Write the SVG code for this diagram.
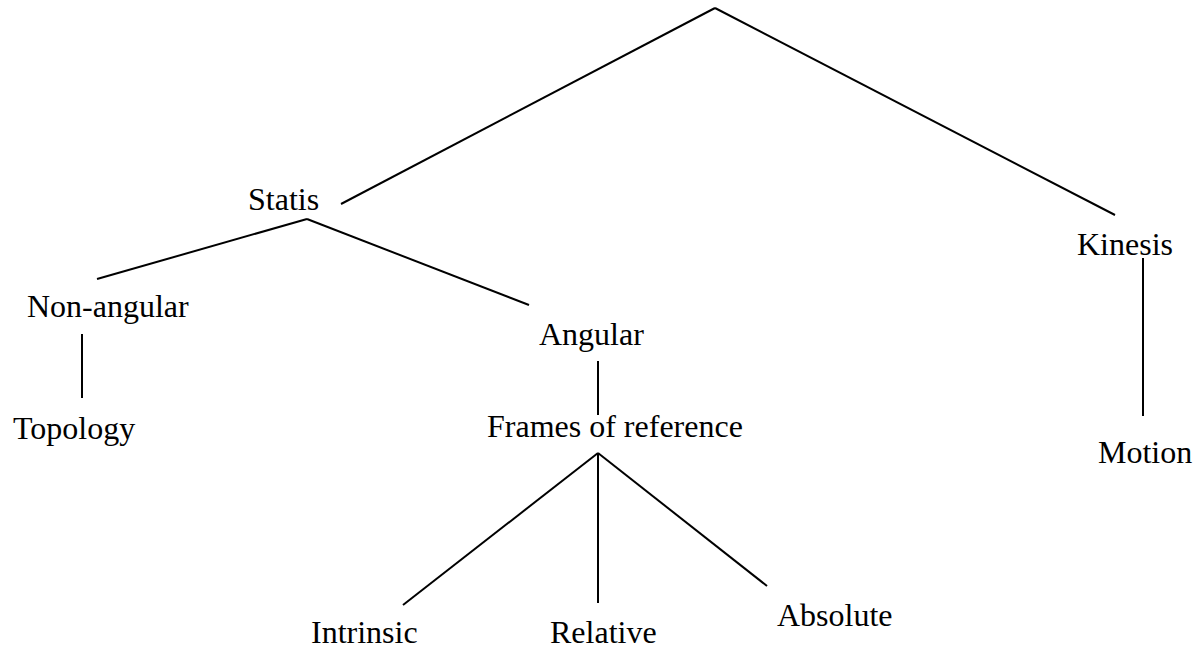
<svg xmlns="http://www.w3.org/2000/svg" width="1196" height="650" viewBox="0 0 1196 650">
<style>
text{font-family:"Liberation Serif","Times New Roman",serif;font-size:32px;fill:#000}
line{stroke:#000;stroke-width:2}
</style>
<rect width="1196" height="650" fill="#fff"/>
<g id="connectors">
<line x1="715" y1="8" x2="341" y2="204"/>
<line x1="715" y1="8" x2="1115" y2="215"/>
<line x1="307" y1="219" x2="97" y2="279"/>
<line x1="307" y1="219" x2="529" y2="305"/>
<line x1="82" y1="334" x2="82" y2="398"/>
<line x1="598" y1="361" x2="598" y2="415"/>
<line x1="598" y1="453" x2="403" y2="605"/>
<line x1="598" y1="453" x2="598" y2="603"/>
<line x1="598" y1="453" x2="767" y2="586"/>
<line x1="1143" y1="258" x2="1143" y2="416"/>
</g>
<g id="statis"><text x="248" y="210">Statis</text></g>
<g id="kinesis"><text x="1077" y="255">Kinesis</text></g>
<g id="non-angular"><text x="27" y="317">Non-angular</text></g>
<g id="angular"><text x="539" y="345">Angular</text></g>
<g id="topology"><text x="13" y="439">Topology</text></g>
<g id="frames"><text x="487" y="437">Frames of reference</text></g>
<g id="motion"><text x="1098" y="463">Motion</text></g>
<g id="intrinsic"><text x="311" y="643">Intrinsic</text></g>
<g id="relative"><text x="550" y="643">Relative</text></g>
<g id="absolute"><text x="777" y="626">Absolute</text></g>
</svg>
